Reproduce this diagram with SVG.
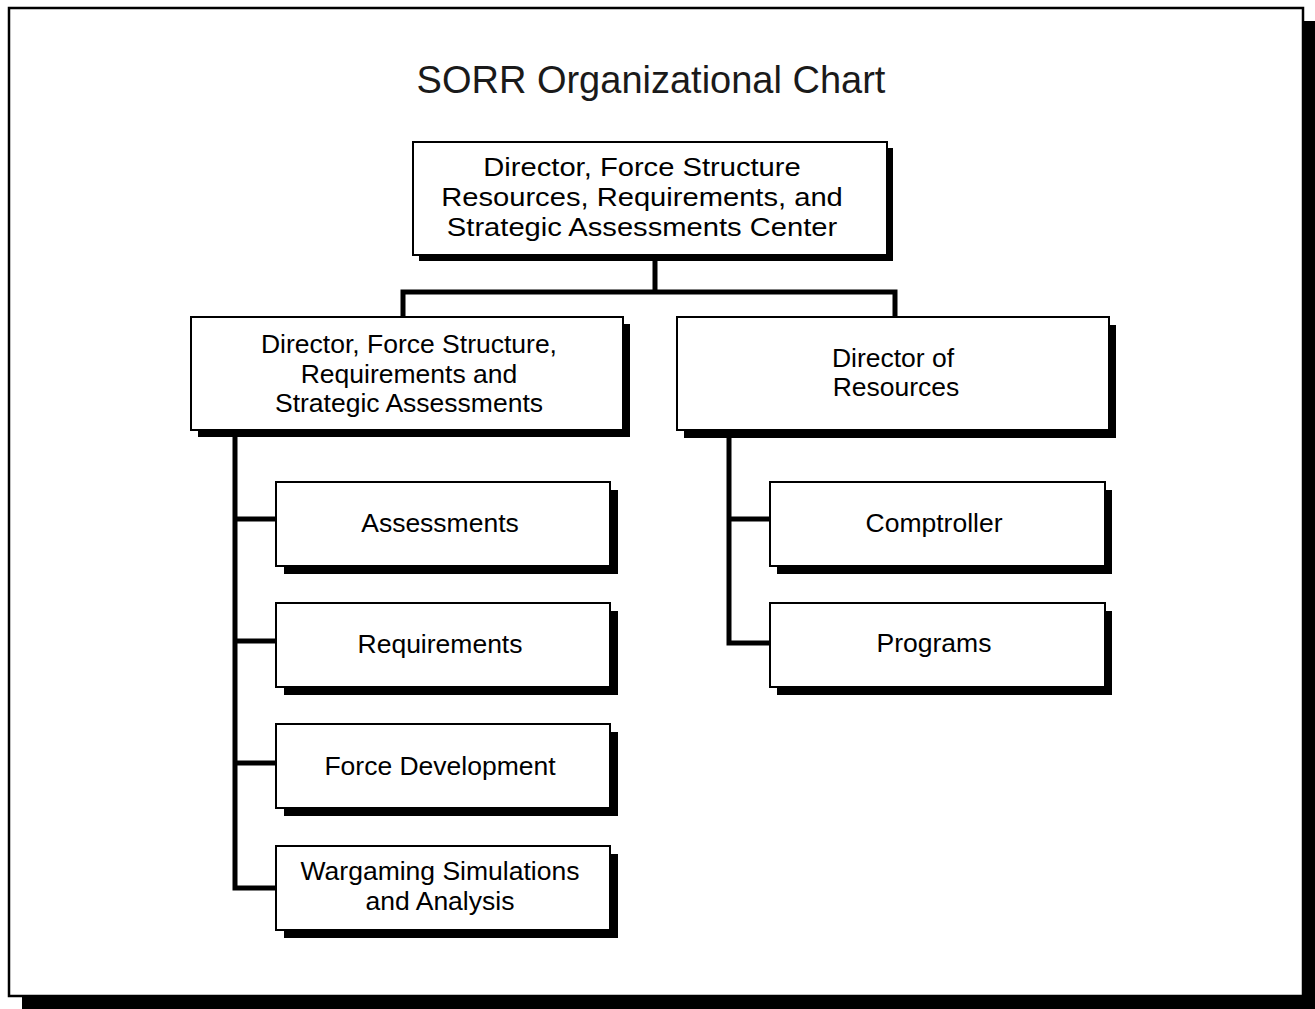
<svg xmlns="http://www.w3.org/2000/svg" width="1315" height="1009" viewBox="0 0 1315 1009">
<style>
.shadow{fill:#000}
.box{fill:#fff;stroke:#000;stroke-width:2}
.conn{fill:none;stroke:#000;stroke-width:5;stroke-linejoin:miter;stroke-linecap:butt}
.t{font-family:"Liberation Sans",Arial,Helvetica,sans-serif;font-size:26.5px;fill:#000;text-anchor:middle}
.title{font-family:"Liberation Sans",Arial,Helvetica,sans-serif;font-size:38px;fill:#1a1a1a;text-anchor:middle}
</style>
<rect width="1315" height="1009" fill="#fff"/>
<g id="frame">
<rect x="22" y="21" width="1294" height="989" class="shadow"/>
<rect x="9" y="8" width="1294" height="988" fill="#fff" stroke="#000" stroke-width="2.5"/>
</g>
<text id="title" class="title" x="651" y="93">SORR Organizational Chart</text>
<g id="connectors">
<path class="conn" d="M655,255 V292 M403,319 V292 H895 V319"/>
<path class="conn" d="M235,430 V888 H277 M235,519 H277 M235,641 H277 M235,763 H277"/>
<path class="conn" d="M729,430 V643 H771 M729,519 H771"/>
</g>
<g id="top">
<rect x="419" y="148" width="474" height="113" class="shadow"/>
<rect x="413" y="142" width="474" height="113" class="box"/>
<g transform="translate(642,0) scale(1.1,1)">
<text class="t" x="0" y="176">Director, Force Structure</text>
<text class="t" x="0" y="206">Resources, Requirements, and</text>
<text class="t" x="0" y="236">Strategic Assessments Center</text>
</g>
</g>
<g id="fsrsa">
<rect x="198" y="324" width="432" height="113" class="shadow"/>
<rect x="191" y="317" width="432" height="113" class="box"/>
<text class="t" x="409" y="353">Director, Force Structure,</text>
<text class="t" x="409" y="383">Requirements and</text>
<text class="t" x="409" y="412">Strategic Assessments</text>
</g>
<g id="resources">
<rect x="684" y="325" width="432" height="113" class="shadow"/>
<rect x="677" y="317" width="432" height="113" class="box"/>
<text class="t" x="893" y="367">Director of</text>
<text class="t" x="896" y="396">Resources</text>
</g>
<g id="assessments">
<rect x="284" y="490" width="334" height="84" class="shadow"/>
<rect x="276" y="482" width="334" height="84" class="box"/>
<text class="t" x="440" y="532">Assessments</text>
</g>
<g id="requirements">
<rect x="284" y="611" width="334" height="84" class="shadow"/>
<rect x="276" y="603" width="334" height="84" class="box"/>
<text class="t" x="440" y="653">Requirements</text>
</g>
<g id="forcedev">
<rect x="284" y="732" width="334" height="84" class="shadow"/>
<rect x="276" y="724" width="334" height="84" class="box"/>
<text class="t" x="440" y="775">Force Development</text>
</g>
<g id="wargaming">
<rect x="284" y="854" width="334" height="84" class="shadow"/>
<rect x="276" y="846" width="334" height="84" class="box"/>
<text class="t" x="440" y="880">Wargaming Simulations</text>
<text class="t" x="440" y="910">and Analysis</text>
</g>
<g id="comptroller">
<rect x="777" y="490" width="335" height="84" class="shadow"/>
<rect x="770" y="482" width="335" height="84" class="box"/>
<text class="t" x="934" y="532">Comptroller</text>
</g>
<g id="programs">
<rect x="777" y="611" width="335" height="84" class="shadow"/>
<rect x="770" y="603" width="335" height="84" class="box"/>
<text class="t" x="934" y="652">Programs</text>
</g>
</svg>
